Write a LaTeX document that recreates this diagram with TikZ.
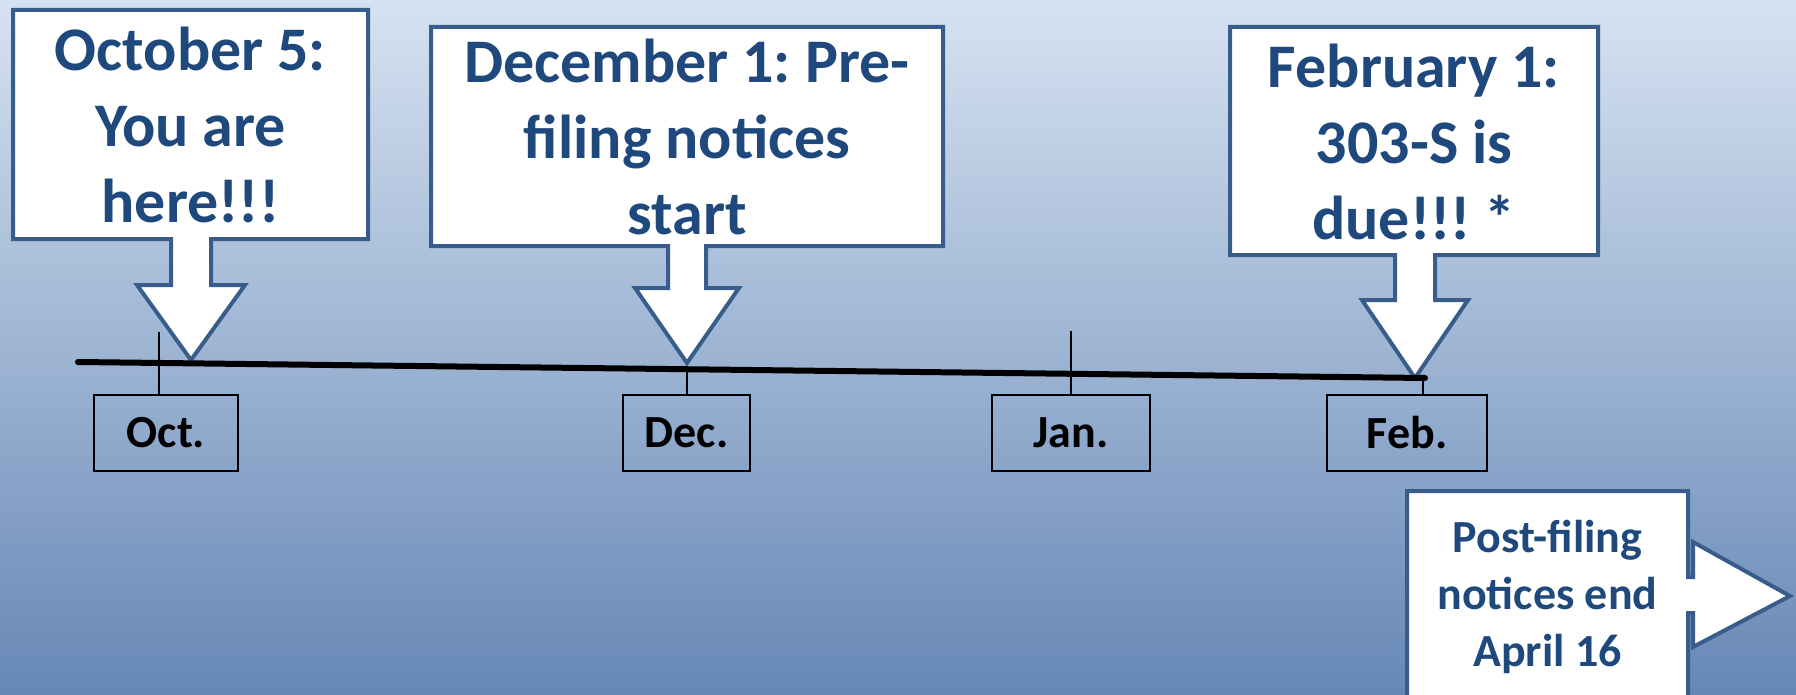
\documentclass[tikz,border=0pt]{standalone}
\usepackage{fontspec}
\setmainfont{Carlito}
\usepackage{xcolor}
\usepackage{tikz}
\usetikzlibrary{positioning,calc}
\definecolor{notetext}{HTML}{1F497D}
\definecolor{noteline}{HTML}{385D8A}
\definecolor{bgtop}{HTML}{D6E2F1}
\definecolor{bgmid}{HTML}{AFC5E1}
\definecolor{bgbot}{HTML}{6687B6}
\frenchspacing

\begin{document}
\begin{tikzpicture}[x=1pt,y=-1pt,
  notebox/.style={draw=noteline,fill=white,line width=4pt},
  notetxt/.style={text=notetext,align=center,font=\fontsize{62}{76}\selectfont\bfseries},
  monthbox/.style={draw=black,line width=2pt,minimum width=#1,minimum height=76pt,
    font=\fontsize{46}{56}\selectfont\bfseries},
  tickline/.style={line width=2.5pt}]
  \useasboundingbox (0,0) rectangle (1796,695);
  \clip (0,0) rectangle (1796,695);
  \shade[top color=bgtop,middle color=bgmid,bottom color=bgbot] (0,0) rectangle (1796,695);

  % callouts
  \draw[notebox] (13,10) -- (368,10) -- (368,239) -- (211,239) -- (211,285) -- (245,285)
    -- (191,360) -- (137,285) -- (171,285) -- (171,239) -- (13,239) -- cycle;
  \node[notetxt] (octnote) at (190.5,125) {October 5:\\You are\\here!!!};
  \draw[notebox] (431,27) -- (943,27) -- (943,246) -- (706,246) -- (706,288) -- (739,288)
    -- (687,363) -- (635,288) -- (668,288) -- (668,246) -- (431,246) -- cycle;
  \node[notetxt] (decnote) at (687,137) {December 1: Pre-\\filing notices\\start};
  \draw[notebox] (1230,27) -- (1598,27) -- (1598,255) -- (1435,255) -- (1435,300) -- (1468,300)
    -- (1415,378) -- (1362,300) -- (1395,300) -- (1395,255) -- (1230,255) -- cycle;
  \node[notetxt] (febnote) at (1414,142) {February 1:\\303-S is\\due!!! *};
  \draw[notebox] (1407,491) -- (1688,491) -- (1688,577) -- (1693,577) -- (1693,542)
    -- (1790,596) -- (1693,647) -- (1693,613) -- (1688,613) -- (1688,720) -- (1407,720) -- cycle;
  \node[notetxt,font=\fontsize{46}{57}\selectfont\bfseries] (postnote) at (1547.5,597)
    {Post-filing\\notices end\\April 16};

  % timeline
  \coordinate (tlstart) at (78,362);
  \coordinate (tlend) at (1425,378);
  \draw[line width=6pt,line cap=round] (tlstart) -- (tlend);

  \node[monthbox=144pt] (oct) at (166,433) {Oct.};
  \node[monthbox=127pt] (dec) at (686.5,433) {Dec.};
  \node[monthbox=158pt] (jan) at (1071,433) {Jan.};
  \node[monthbox=160pt] (feb) at (1407,433) {Feb.};

  \coordinate (octtick) at (159,332);
  \coordinate (dectick) at (687,368);
  \coordinate (jantick) at (1071,331);
  \coordinate (febtick) at (1423,376);
  \draw[tickline] (octtick) -- (octtick |- oct.north);
  \draw[tickline] (dectick) -- (dectick |- dec.north);
  \draw[tickline] (jantick) -- (jantick |- jan.north);
  \draw[tickline] (febtick) -- (febtick |- feb.north);
\end{tikzpicture}
\end{document}
